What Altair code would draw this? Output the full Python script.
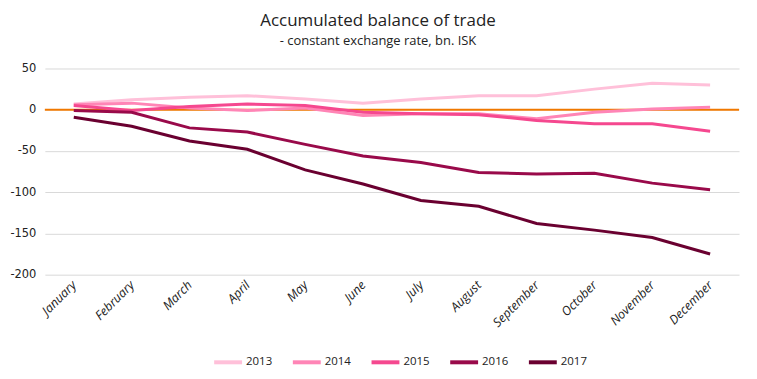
import altair as alt
import pandas as pd

months = ["January", "February", "March", "April", "May", "June", "July",
          "August", "September", "October", "November", "December"]
years = ["2013", "2014", "2015", "2016", "2017"]
v2013 = [7, 12, 15, 17, 13, 8, 13, 17, 17, 25, 32, 30]
v2014 = [6, 8, 2, -1, 2, -7, -5, -5, -11, -3, 1, 3]
v2015 = [5, -1, 4, 7, 5, -3, -5, -6, -13, -17, -17, -26]
v2016 = [-1, -3, -22, -27, -42, -56, -64, -76, -78, -77, -89, -97]
v2017 = [-9, -20, -38, -48, -73, -90, -110, -117, -138, -146, -155, -175]
colors = ["#FFC0D9", "#FF85B6", "#F5488F", "#990A4A", "#6A0030"]

rows = []
for y, vals in zip(years, [v2013, v2014, v2015, v2016, v2017]):
    for m, v in zip(months, vals):
        rows.append({"month": m, "year": y, "value": v})
df = pd.DataFrame(rows)

x = alt.X("month:N", sort=months, title=None,
          scale=alt.Scale(type="point", padding=0.5),
          axis=alt.Axis(labelAngle=-45, labelAlign="right", labelBaseline="middle",
                        labelFont="Open Sans", labelFontStyle="italic", labelFontSize=12.5,
                        labelColor="#222", ticks=False, domain=False, grid=False,
                        labelPadding=8))
y = alt.Y("value:Q", title=None,
          scale=alt.Scale(domain=[-200, 50], nice=False),
          axis=alt.Axis(values=[-200, -150, -100, -50, 0, 50], ticks=False, domain=False,
                        labelExpr="toString(datum.value)",
                        gridColor="#d9d9d9", labelFont="DejaVu Sans", labelFontSize=11.5,
                        labelColor="#222", labelPadding=9))

lines = alt.Chart(df).mark_line(strokeWidth=3).encode(
    x=x, y=y,
    color=alt.Color("year:N", scale=alt.Scale(domain=years, range=colors),
                    legend=alt.Legend(title=None, orient="none", direction="horizontal",
                                      legendX=168, legendY=279,
                                      symbolType="stroke", symbolStrokeWidth=4,
                                      symbolSize=784, labelFont="Open Sans",
                                      labelFontSize=11.5, labelColor="#222",
                                      columnPadding=12, labelOffset=2)),
    order="year:N",
)

zero = alt.Chart(pd.DataFrame({"v": [0]})).mark_rule(color="#F07800", strokeWidth=2).encode(
    y=alt.Y("v:Q", scale=alt.Scale(domain=[-200, 50], nice=False))
)

chart = alt.layer(zero, lines).properties(
    width=697, height=207,
    autosize=alt.AutoSizeParams(type="none"),
    title=alt.TitleParams(text="Accumulated balance of trade",
                          subtitle="- constant exchange rate, bn. ISK",
                          font="Open Sans", fontSize=17, fontWeight="normal",
                          subtitleFont="Open Sans", subtitleFontSize=13,
                          subtitleColor="#222", color="#222",
                          anchor="middle", dx=-14, offset=14, subtitlePadding=5),
    padding={"left": 37, "top": 60, "right": 10, "bottom": 100},
).configure_view(stroke=None)

chart.save("out.html", embed_options={"renderer": "svg", "actions": False})
